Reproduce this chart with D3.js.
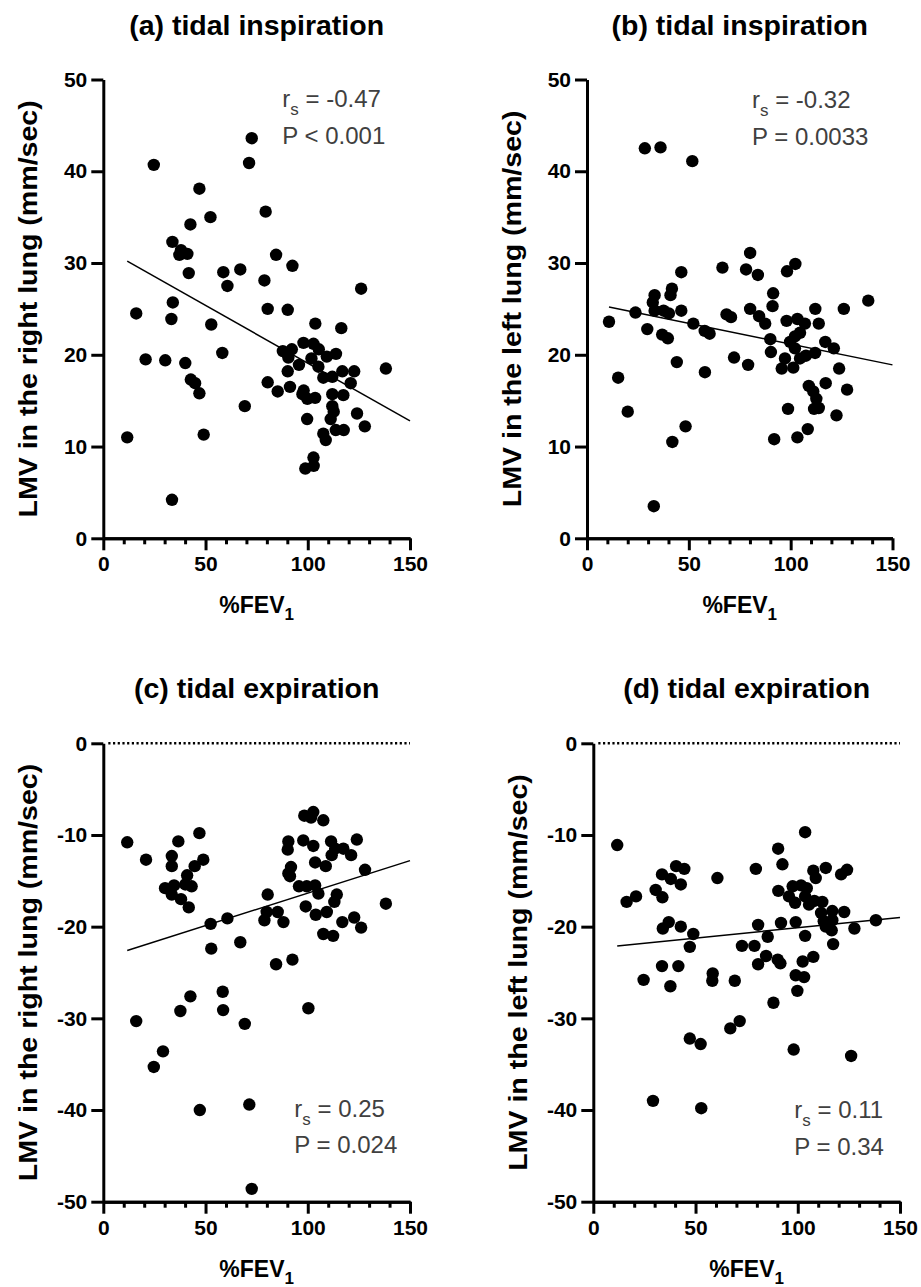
<!DOCTYPE html>
<html>
<head>
<meta charset="utf-8">
<script src="https://cdn.jsdelivr.net/npm/d3@7"></script>
<style>
  body { margin: 0; background: #fff; }
  svg text { font-family: "Liberation Sans", Arial, sans-serif; }
</style>
</head>
<body>
<div id="chart"></div>
<script>
// ---- data (%FEV1 vs LMV) ----
const aFev = [72.6, 71.3, 24.7, 47.0, 52.4, 79.4, 42.6, 33.8, 38.0, 37.2, 41.1, 84.5, 92.5, 41.8, 58.7, 67.0, 60.7, 78.8, 126.1, 34.0, 16.1, 80.4, 90.2, 33.3, 52.8, 103.7, 116.4, 20.7, 30.3, 40.1, 58.2, 42.8, 44.9, 47.0, 69.2, 11.7, 49.1, 33.6, 87.8, 92.2, 97.9, 102.8, 105.4, 90.5, 101.8, 109.3, 113.8, 95.7, 105.2, 90.2, 116.9, 122.7, 138.2, 107.6, 112.0, 121.0, 80.4, 85.3, 91.3, 98.0, 97.4, 99.8, 103.6, 112.0, 117.4, 112.0, 112.7, 111.2, 99.7, 124.1, 127.9, 107.6, 108.8, 113.7, 117.6, 102.8, 102.9, 98.8];
const aLmv = [43.6, 40.9, 40.7, 38.1, 35.0, 35.6, 34.2, 32.3, 31.4, 30.9, 31.0, 30.9, 29.7, 28.9, 29.0, 29.3, 27.5, 28.1, 27.2, 25.7, 24.5, 25.0, 24.9, 23.9, 23.3, 23.4, 22.9, 19.5, 19.4, 19.1, 20.2, 17.3, 16.9, 15.8, 14.4, 11.0, 11.3, 4.2, 20.4, 20.6, 21.3, 21.2, 20.6, 19.7, 19.6, 19.8, 20.1, 18.9, 18.7, 18.2, 18.2, 18.2, 18.5, 17.5, 17.6, 16.9, 17.0, 16.0, 16.5, 16.1, 15.7, 15.2, 15.3, 15.7, 15.6, 14.4, 13.8, 13.0, 13.0, 13.6, 12.2, 11.4, 10.7, 11.8, 11.8, 8.8, 7.9, 7.6];

const bFev = [28.4, 36.1, 51.7, 80.1, 66.5, 78.1, 83.9, 46.3, 102.3, 98.2, 91.4, 41.7, 41.0, 33.2, 138.1, 32.3, 23.8, 33.2, 37.6, 40.2, 46.3, 10.8, 52.2, 29.6, 36.9, 39.7, 57.8, 60.2, 68.5, 70.7, 80.1, 91.1, 84.5, 87.5, 112.1, 126.1, 98.0, 103.3, 107.0, 113.8, 104.6, 102.1, 90.0, 99.7, 102.1, 117.0, 121.2, 112.0, 107.5, 104.6, 90.3, 97.2, 72.2, 79.1, 44.1, 95.6, 101.3, 123.8, 57.9, 15.3, 108.9, 111.1, 112.6, 117.2, 127.7, 111.5, 113.8, 98.7, 122.5, 20.0, 48.4, 41.9, 108.4, 103.3, 91.9, 32.8];
const bLmv = [42.5, 42.6, 41.1, 31.1, 29.5, 29.3, 28.7, 29.0, 29.9, 29.1, 26.7, 27.2, 26.5, 26.5, 25.9, 25.7, 24.6, 24.8, 24.8, 24.5, 24.8, 23.6, 23.4, 22.8, 22.2, 21.8, 22.6, 22.3, 24.4, 24.1, 25.0, 25.3, 24.2, 23.4, 25.0, 25.0, 23.7, 23.9, 23.4, 23.4, 22.4, 22.0, 21.7, 21.4, 20.7, 21.4, 20.7, 20.2, 19.9, 19.6, 20.3, 19.6, 19.7, 18.9, 19.2, 18.5, 18.6, 18.5, 18.1, 17.5, 16.6, 16.0, 15.2, 16.9, 16.2, 14.1, 14.2, 14.1, 13.4, 13.8, 12.2, 10.5, 11.9, 11.0, 10.8, 3.5];

const cFev = [11.7, 20.9, 36.7, 47.0, 33.5, 33.5, 44.7, 48.9, 41.0, 40.1, 43.2, 30.2, 34.6, 33.5, 38.0, 41.8, 52.5, 60.7, 52.8, 67.0, 80.4, 79.9, 85.3, 78.8, 88.1, 84.5, 92.5, 98.3, 102.7, 101.6, 107.6, 90.5, 90.2, 97.8, 102.7, 111.4, 113.4, 117.4, 121.2, 124.0, 111.7, 103.6, 108.8, 91.8, 90.5, 91.3, 128.0, 95.7, 99.5, 103.6, 105.2, 114.2, 113.0, 99.0, 103.9, 109.3, 138.2, 116.9, 122.7, 126.1, 107.6, 112.4, 16.1, 37.7, 42.6, 58.4, 58.6, 69.2, 100.3, 29.2, 24.7, 47.2, 71.4, 72.6];
const cLmv = [-10.8, -12.7, -10.7, -9.8, -12.3, -13.4, -13.4, -12.7, -14.4, -15.4, -15.6, -15.8, -15.5, -16.5, -17.0, -17.9, -19.7, -19.1, -22.4, -21.7, -16.5, -18.4, -18.4, -19.3, -19.5, -24.1, -23.6, -7.9, -7.5, -8.1, -8.4, -10.7, -11.6, -10.6, -11.2, -10.7, -11.5, -11.5, -12.2, -10.5, -12.2, -13.0, -13.4, -13.5, -14.2, -14.5, -13.8, -15.6, -15.6, -15.5, -16.4, -16.5, -17.3, -17.8, -18.7, -18.4, -17.5, -19.5, -19.0, -20.1, -20.8, -21.0, -30.3, -29.2, -27.6, -27.1, -29.1, -30.6, -28.9, -33.6, -35.3, -40.0, -39.4, -48.6];

const dFev = [11.7, 103.6, 90.4, 92.5, 79.5, 60.7, 40.5, 44.5, 33.6, 37.9, 42.8, 30.5, 33.8, 20.9, 16.3, 107.6, 108.8, 113.7, 121.2, 124.1, 90.5, 97.5, 101.6, 104.4, 95.7, 98.7, 103.6, 105.5, 108.1, 112.0, 111.4, 116.9, 122.7, 112.7, 116.9, 113.7, 116.6, 127.7, 138.2, 99.0, 91.8, 80.6, 85.3, 103.6, 117.3, 36.9, 34.0, 42.8, 48.9, 47.2, 72.7, 78.8, 84.5, 80.6, 90.2, 91.5, 102.4, 107.6, 33.6, 41.6, 24.6, 37.7, 58.4, 58.2, 69.2, 99.0, 103.1, 99.8, 88.1, 71.6, 67.0, 47.2, 52.5, 98.0, 126.1, 29.2, 52.8];
const dLmv = [-11.1, -9.7, -11.5, -13.2, -13.7, -14.7, -13.4, -13.7, -14.3, -14.8, -15.4, -16.0, -16.8, -16.7, -17.3, -13.9, -14.7, -13.6, -14.3, -13.8, -16.1, -15.6, -15.5, -15.8, -16.7, -17.4, -16.7, -17.6, -17.2, -17.3, -18.5, -18.3, -18.4, -19.4, -19.3, -20.0, -20.4, -20.2, -19.3, -19.5, -19.6, -19.8, -21.1, -21.0, -21.9, -19.5, -20.2, -20.0, -20.8, -22.2, -22.1, -22.1, -23.2, -24.1, -23.6, -24.0, -23.8, -23.3, -24.3, -24.3, -25.8, -26.5, -25.1, -25.9, -25.9, -25.3, -25.5, -27.0, -28.3, -30.3, -31.1, -32.2, -32.8, -33.4, -34.1, -39.0, -39.8];

// regression line end points [fev, lmv]
const aLine = [[11.7, 30.2], [150, 12.8]];
const bLine = [[10.8, 25.2], [150, 18.9]];
const cLine = [[11.7, -22.6], [150, -12.8]];
const dLine = [[11.7, -22.1], [150, -19.0]];

const titles = ["(a) tidal inspiration", "(b) tidal inspiration", "(c) tidal expiration", "(d) tidal expiration"];
const yTitles = ["LMV in the right lung (mm/sec)", "LMV in the left lung (mm/sec)",
                 "LMV in the right lung (mm/sec)", "LMV in the left lung (mm/sec)"];
const rsValues = ["-0.47", "-0.32", "0.25", "0.11"];
const pValues = ["P < 0.001", "P = 0.0033", "P = 0.024", "P = 0.34"];
const xTicksMajor = [0, 50, 100, 150];
const xTicksMinor = [10, 20, 30, 40, 60, 70, 80, 90, 110, 120, 130, 140];

// ---- layout (pixels) ----
const W = 921, H = 1287;
const panels = [
    {fev: aFev, lmv: aLmv, line: aLine, yDomain: [0, 50], left: 103.3, right: 410, top: 79.5, bottom: 538.3, statX: 179, statY: 27.5},
    {fev: bFev, lmv: bLmv, line: bLine, yDomain: [0, 50], left: 587, right: 892.5, top: 79.5, bottom: 538.3, statX: 165, statY: 28.5},
    {fev: cFev, lmv: cLmv, line: cLine, yDomain: [-50, 0], left: 103.3, right: 410, top: 743.3, bottom: 1201.7, statX: 191, statY: 373.5},
    {fev: dFev, lmv: dLmv, line: dLine, yDomain: [-50, 0], left: 593.3, right: 900, top: 743.3, bottom: 1201.7, statX: 201, statY: 375}
];

const svg = d3.select("#chart").append("svg")
    .attr("width", W)
    .attr("height", H);

svg.append("rect").attr("width", W).attr("height", H).attr("fill", "#fff");

function styleAxis(g) {
    g.select(".domain").attr("stroke", "#000").attr("stroke-width", 3);
    g.selectAll(".tick line").attr("stroke", "#000").attr("stroke-width", 3);
    g.selectAll(".tick text")
        .attr("fill", "#000")
        .attr("font-size", 21)
        .attr("font-weight", "bold");
}

panels.forEach((p, i) => {
    const g = svg.append("g");
    const x = d3.scaleLinear().domain([0, 150]).range([p.left, p.right]);
    const y = d3.scaleLinear().domain(p.yDomain).range([p.bottom, p.top]);
    const cx = (p.left + p.right) / 2;

    // dotted zero line in the expiration panels
    if (p.yDomain[1] === 0) {
        g.append("line")
            .attr("x1", x(0) + 5).attr("x2", x(150))
            .attr("y1", y(0)).attr("y2", y(0))
            .attr("stroke", "#000")
            .attr("stroke-width", 2.4)
            .attr("stroke-dasharray", "2.2 2.5");
    }

    // minor x ticks
    g.append("g")
        .attr("transform", "translate(0," + p.bottom + ")")
        .call(d3.axisBottom(x).tickValues(xTicksMinor).tickSize(6).tickSizeOuter(0).tickFormat(""))
        .call(styleAxis);

    // major x ticks
    g.append("g")
        .attr("transform", "translate(0," + p.bottom + ")")
        .call(d3.axisBottom(x).tickValues(xTicksMajor).tickSize(12).tickSizeOuter(0).tickPadding(6)
            .tickFormat(d => String(d)))
        .call(styleAxis);

    // y axis
    g.append("g")
        .attr("transform", "translate(" + p.left + ",0)")
        .call(d3.axisLeft(y).tickValues(d3.range(p.yDomain[0], p.yDomain[1] + 1, 10))
            .tickSize(12).tickSizeOuter(0).tickPadding(4).tickFormat(d => String(d)))
        .call(styleAxis);

    // regression line
    g.append("line")
        .attr("x1", x(p.line[0][0])).attr("y1", y(p.line[0][1]))
        .attr("x2", x(p.line[1][0])).attr("y2", y(p.line[1][1]))
        .attr("stroke", "#000")
        .attr("stroke-width", 1.5);

    // points
    g.selectAll("circle")
        .data(d3.zip(p.fev, p.lmv))
        .enter().append("circle")
        .attr("cx", d => x(d[0]))
        .attr("cy", d => y(d[1]))
        .attr("r", 6.2)
        .attr("fill", "#000");

    // title
    g.append("text")
        .attr("x", cx)
        .attr("y", p.top - 45)
        .attr("text-anchor", "middle")
        .attr("font-size", 28.5)
        .attr("font-weight", "bold")
        .text(titles[i]);

    // x title with subscript
    const xt = g.append("text")
        .attr("x", cx)
        .attr("y", p.bottom + 75)
        .attr("text-anchor", "middle")
        .attr("font-size", 23)
        .attr("font-weight", "bold");
    xt.append("tspan").text("%FEV");
    xt.append("tspan").attr("font-size", 17).attr("dy", 7).text("1");

    // y title, stretched a little along its length like the original
    const yt = g.append("text")
        .attr("transform", "translate(" + (p.left - 66) + "," + ((p.top + p.bottom) / 2) + ") rotate(-90)")
        .attr("text-anchor", "middle")
        .attr("font-size", 25.5)
        .attr("font-weight", "bold")
        .text(yTitles[i]);
    const len = yt.node().getComputedTextLength();
    yt.attr("textLength", len * 1.12).attr("lengthAdjust", "spacingAndGlyphs");

    // statistics
    const st = g.append("text")
        .attr("x", p.left + p.statX)
        .attr("y", p.top + p.statY)
        .attr("font-size", 24)
        .attr("fill", "#404040");
    st.append("tspan").text("r");
    st.append("tspan").attr("font-size", 17).attr("dy", 8).text("s");
    st.append("tspan").attr("dy", -8).text(" = " + rsValues[i]);

    g.append("text")
        .attr("x", p.left + p.statX)
        .attr("y", p.top + p.statY + 36.5)
        .attr("font-size", 24)
        .attr("fill", "#404040")
        .text(pValues[i]);
});
</script>
</body>
</html>
